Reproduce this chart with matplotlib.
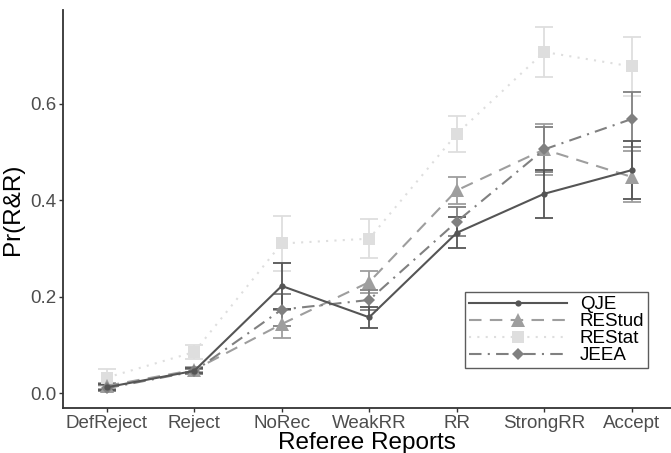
import matplotlib

matplotlib.use("Agg")
import matplotlib.pyplot as plt


# =========================
# Data
# =========================

reports = ["DefReject", "Reject", "NoRec", "WeakRR", "RR", "StrongRR", "Accept"]

qje = [0.012, 0.046, 0.222, 0.157, 0.332, 0.413, 0.462]
qje_ci = [0.006, 0.005, 0.048, 0.022, 0.032, 0.050, 0.060]

restud = [0.015, 0.048, 0.143, 0.230, 0.420, 0.505, 0.448]
restud_ci = [0.006, 0.005, 0.029, 0.022, 0.028, 0.052, 0.053]

restat = [0.032, 0.085, 0.310, 0.320, 0.537, 0.707, 0.677]
restat_ci = [0.017, 0.014, 0.058, 0.040, 0.038, 0.052, 0.061]

jeea = [0.010, 0.045, 0.173, 0.193, 0.355, 0.505, 0.568]
jeea_ci = [0.006, 0.005, 0.033, 0.020, 0.030, 0.046, 0.057]

journals = ["QJE", "REStud", "REStat", "JEEA"]


# =========================
# Styles
# =========================

styles = {
    "QJE": dict(color="#555555", ls="-", marker="o", ms=4.5, lw=1.5),
    "REStud": dict(color="#9e9e9e", ls=(0, (6, 4)), marker="^", ms=10, lw=1.5),
    "REStat": dict(color="#dedede", ls=(0, (1, 3)), marker="s", ms=8.5, lw=1.5),
    "JEEA": dict(color="#808080", ls=(0, (6, 3, 1, 3)), marker="D", ms=6.5, lw=1.5),
}

values = {"QJE": qje, "REStud": restud, "REStat": restat, "JEEA": jeea}
cis = {"QJE": qje_ci, "REStud": restud_ci, "REStat": restat_ci, "JEEA": jeea_ci}

plt.rcParams["font.family"] = ["Liberation Sans", "DejaVu Sans"]

# Create Figure
fig = plt.figure(figsize=(6.71, 4.53), dpi=100)
ax = fig.add_axes([63 / 671, 45 / 453, 608 / 671, 398 / 453])

x = list(range(len(reports)))

# Error bars first, lines on top
for name in ["REStat", "REStud", "JEEA", "QJE"]:
    st = styles[name]
    ax.errorbar(
        x,
        values[name],
        yerr=cis[name],
        fmt="none",
        ecolor=st["color"],
        elinewidth=1.3,
        capsize=6.5,
        capthick=1.3,
        zorder=2,
    )

handles = {}
for name in ["REStat", "REStud", "JEEA", "QJE"]:
    st = styles[name]
    (line,) = ax.plot(
        x,
        values[name],
        color=st["color"],
        linestyle=st["ls"],
        linewidth=st["lw"],
        marker=st["marker"],
        markersize=st["ms"],
        markeredgewidth=0,
        zorder=3,
        label=name,
    )
    handles[name] = line

# Axes
ax.set_xlim(-0.5, 6.45)
ax.set_ylim(-0.031, 0.794)

ax.set_xticks(x)
ax.set_xticklabels(reports)
ax.set_yticks([0.0, 0.2, 0.4, 0.6])
ax.set_yticklabels(["0.0", "0.2", "0.4", "0.6"])

ax.tick_params(
    axis="both",
    colors="#333333",
    labelcolor="#4d4d4d",
    labelsize=13.5,
    length=3,
    width=1,
    pad=2,
)

for side in ["top", "right"]:
    ax.spines[side].set_visible(False)
for side in ["left", "bottom"]:
    ax.spines[side].set_color("#333333")
    ax.spines[side].set_linewidth(1.3)

# Labels
ax.set_xlabel("Referee Reports", fontsize=17.5, color="black", labelpad=0)
ax.set_ylabel("Pr(R&R)", fontsize=17.5, color="black", labelpad=4)

# Legend
leg = ax.legend(
    [handles[n] for n in journals],
    journals,
    loc="lower right",
    bbox_to_anchor=(0.962, 0.10),
    fontsize=13.5,
    frameon=True,
    fancybox=False,
    edgecolor="#333333",
    handlelength=5.2,
    labelspacing=0.0,
    handletextpad=0.7,
    borderpad=0.2,
    borderaxespad=0,
)
leg.get_frame().set_linewidth(1.0)

fig.savefig("out.png", dpi=100)
plt.close(fig)
